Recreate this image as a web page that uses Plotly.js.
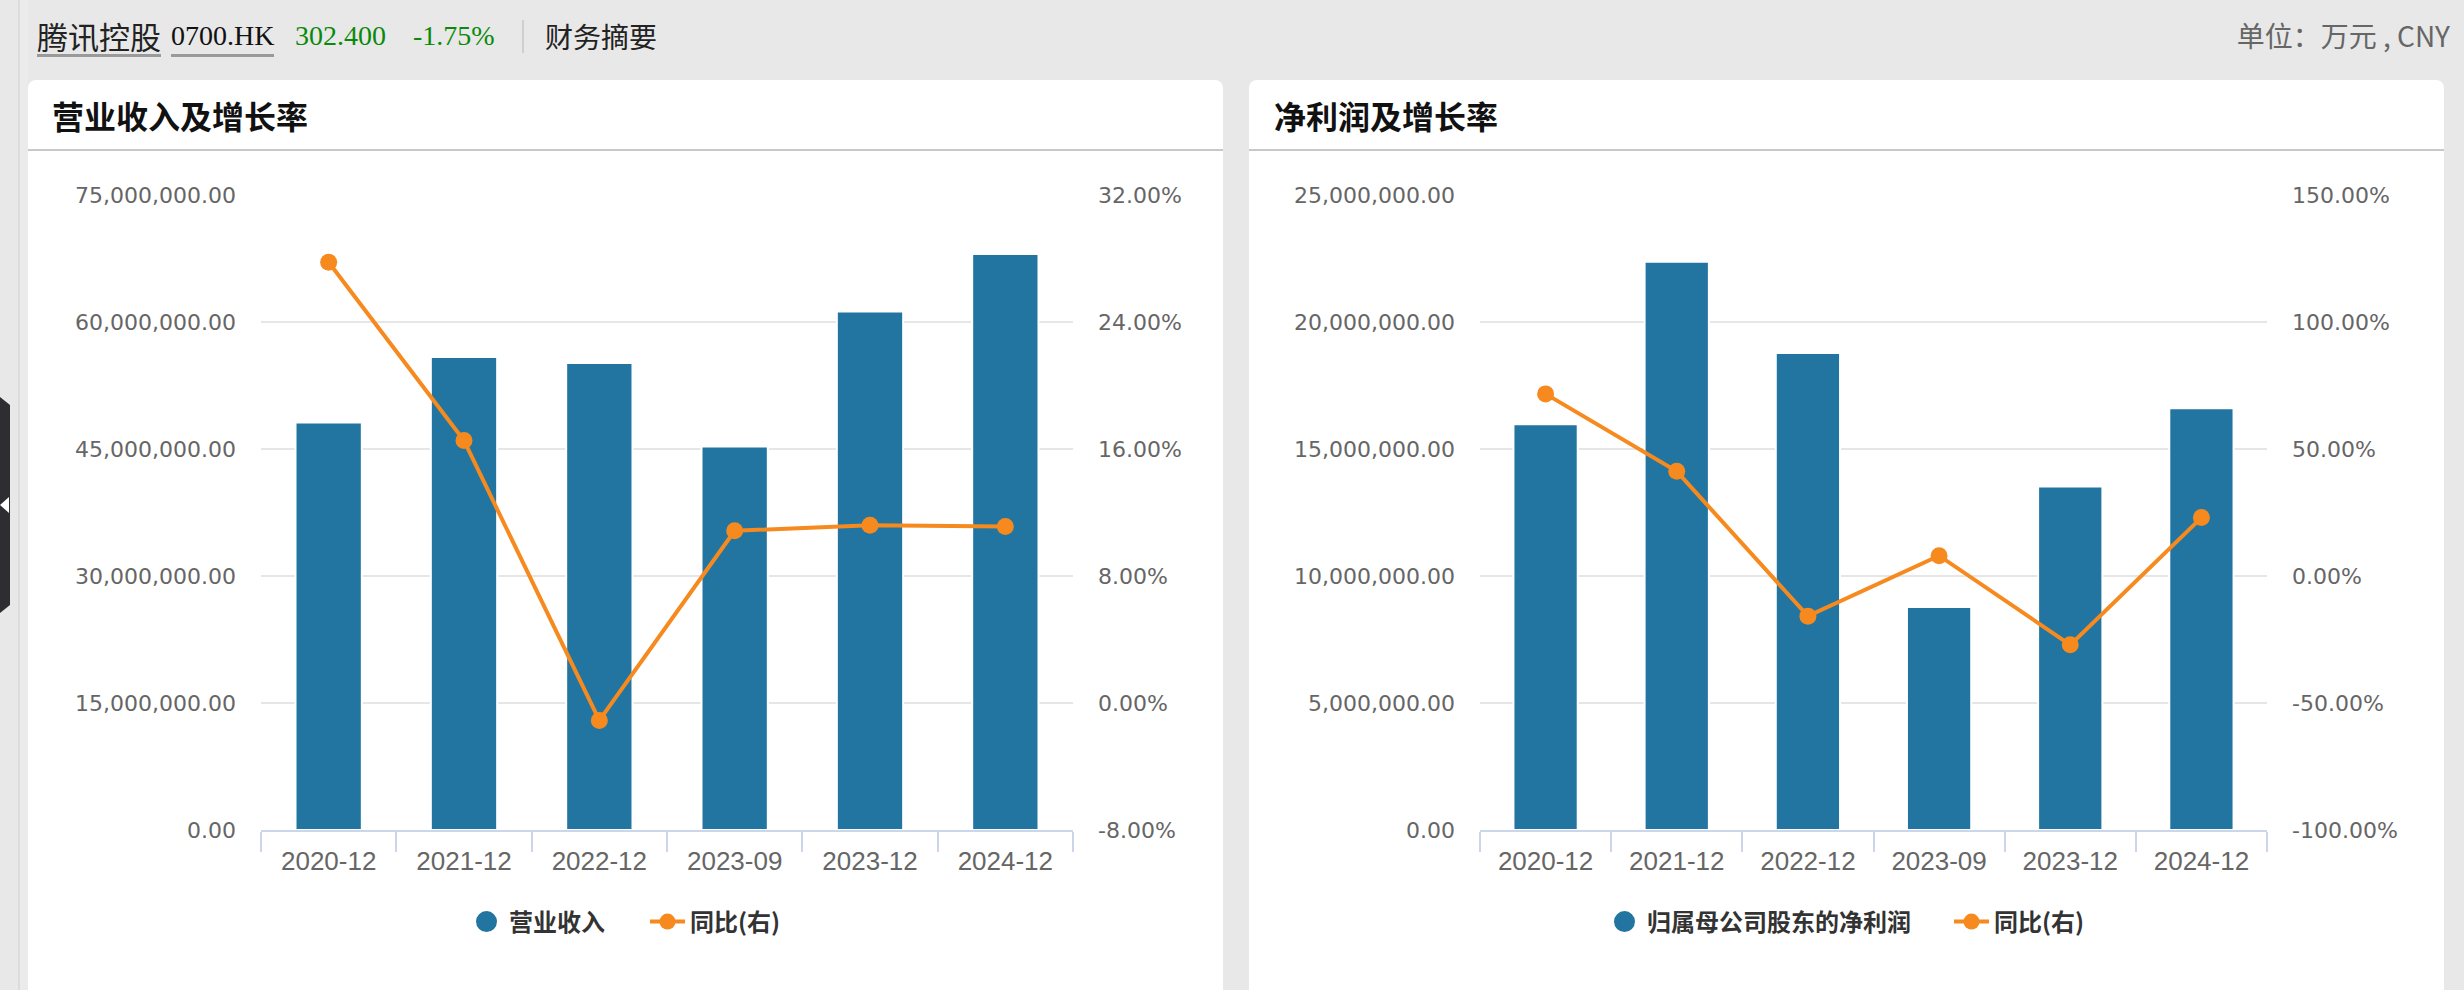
<!DOCTYPE html>
<html>
<head>
<meta charset="utf-8">
<script src="https://cdn.plot.ly/plotly-3.0.1.min.js"></script>
<style>
  html, body { margin:0; padding:0; width:2464px; height:990px; overflow:hidden; background:#e8e8e8; }
  .abs { position:absolute; white-space:nowrap; }
  .hdr { font-size:28px; line-height:28px; top:22px; color:#222; }
  .cjk { font-family:"Noto Sans CJK SC", sans-serif; }
  .serif { font-family:"Liberation Serif", "Noto Sans CJK SC", serif; }
  .panel { position:absolute; top:80px; width:1195px; height:1000px; background:#fff; border-radius:8px 8px 0 0; }
  .ptitle { position:absolute; top:99px; font-family:"Noto Sans CJK SC", sans-serif; font-weight:700; font-size:32px; line-height:32px; color:#111; }
  .sep { position:absolute; top:149px; height:2px; width:1195px; background:#c8c8c8; }
  #plot { position:absolute; left:0; top:0; width:2464px; height:990px; }
</style>
</head>
<body>
<div class="abs" style="left:18px;top:0;width:2px;height:990px;background:#dcdcdc;"></div>
<div class="abs" style="left:20px;top:0;width:8px;height:990px;background:#ebebeb;"></div>
<div class="abs" style="left:0;top:397px;width:10px;height:216px;background:#2e2d32;clip-path:polygon(0 0,100% 8px,100% 208px,0 100%);"></div>
<div class="abs" style="left:0;top:497px;width:9px;height:16px;background:#fff;clip-path:polygon(0 50%,100% 0,100% 100%);"></div>

<div class="abs hdr cjk" style="left:37px;font-size:31px;line-height:31px;top:20px;padding-bottom:3px;border-bottom:3px solid #9a9a9a;">腾讯控股</div>
<div class="abs hdr serif" style="left:171px;top:22px;padding-bottom:4px;border-bottom:3px solid #9a9a9a;color:#111;">0700.HK</div>
<div class="abs hdr serif" style="left:295px;color:#0a8a0a;">302.400</div>
<div class="abs hdr serif" style="left:413px;color:#0a8a0a;">-1.75%</div>
<div class="abs" style="left:522px;top:20px;width:2px;height:33px;background:#cfcfcf;"></div>
<div class="abs hdr cjk" style="left:545px;">财务摘要</div>
<div class="abs cjk" style="right:14px;top:21px;font-size:28px;line-height:29px;color:#666;">单位：万元 , CNY</div>

<div class="panel" style="left:28px;"></div>
<div class="panel" style="left:1249px;"></div>
<div class="sep" style="left:28px;"></div>
<div class="sep" style="left:1249px;"></div>
<div class="ptitle" style="left:52px;">营业收入及增长率</div>
<div class="ptitle" style="left:1274px;">净利润及增长率</div>

<div id="plot"></div>
<script>
// ---- data (万元 / %) ----
const periods = ['2020-12', '2021-12', '2022-12', '2023-09', '2023-12', '2024-12'];
const revenue = [48130000, 55860000, 55160000, 45300000, 61230000, 68040000];
const revenueYoY = [27.76, 16.53, -1.10, 10.85, 11.20, 11.12];
const netProfit = [15970000, 22370000, 18780000, 8780000, 13520000, 16600000];
const netProfitYoY = [71.7, 41.2, -15.8, 8.0, -27.1, 23.0];

const revTicks = [0, 15000000, 30000000, 45000000, 60000000, 75000000];
const revTickText = ['0.00', '15,000,000.00', '30,000,000.00', '45,000,000.00', '60,000,000.00', '75,000,000.00'];
const revYoYTicks = [-8, 0, 8, 16, 24, 32];
const revYoYTickText = ['-8.00%', '0.00%', '8.00%', '16.00%', '24.00%', '32.00%'];
const npTicks = [0, 5000000, 10000000, 15000000, 20000000, 25000000];
const npTickText = ['0.00', '5,000,000.00', '10,000,000.00', '15,000,000.00', '20,000,000.00', '25,000,000.00'];
const npYoYTicks = [-100, -50, 0, 50, 100, 150];
const npYoYTickText = ['-100.00%', '-50.00%', '0.00%', '50.00%', '100.00%', '150.00%'];

const revName = '营业收入';
const npName = '归属母公司股东的净利润';
const yoyName = '同比(右)';

// ---- styling ----
const W = 2464, H = 990;
const BLUE = '#2275a0', ORANGE = '#f68a1e';
const yDom = [1 - 830 / H, 1 - 195 / H];
const leftX = [261 / W, 1073 / W];
const rightX = [1480 / W, 2267 / W];
const yFont = {family: "'DejaVu Sans', sans-serif", size: 22, color: '#666'};
const xFont = {family: "'Liberation Sans', sans-serif", size: 26, color: '#666'};

function xAxis(dom, anchor) {
  return {domain: dom, anchor: anchor, type: 'category', showline: true, linecolor: '#ccd6eb', linewidth: 2,
    ticks: 'outside', tickson: 'boundaries', ticklen: 20, tickwidth: 2, tickcolor: '#ccd6eb',
    showgrid: false, zeroline: false, tickfont: xFont, ticklabelstandoff: 7, fixedrange: true};
}
function yLeft(anchor, range, vals, text) {
  return {domain: yDom, anchor: anchor, range: range, tickmode: 'array', tickvals: vals, ticktext: text,
    showgrid: true, gridcolor: '#e6e6e6', gridwidth: 2, zeroline: false, showline: false, ticks: '',
    tickfont: yFont, ticklabelstandoff: 24};
}
function yRight(anchor, over, range, vals, text) {
  return {domain: yDom, anchor: anchor, overlaying: over, side: 'right', range: range, tickmode: 'array',
    tickvals: vals, ticktext: text, showgrid: false, zeroline: false, showline: false, ticks: '',
    tickfont: yFont, ticklabelstandoff: 24};
}

const lineStyle = {color: ORANGE, width: 4};
const markStyle = {color: ORANGE, size: 17};

const traces = [
  {type: 'bar', x: periods, y: revenue, xaxis: 'x', yaxis: 'y', name: revName, showlegend: false,
   marker: {color: BLUE, line: {color: '#fff', width: 2}}},
  {type: 'scatter', mode: 'markers', x: [null], y: [null], xaxis: 'x', yaxis: 'y', name: revName,
   legend: 'legend', legendwidth: 131, marker: {color: BLUE, size: 16, line: {color: BLUE, width: 6}}},
  {type: 'scatter', mode: 'lines+markers', x: periods, y: revenueYoY, xaxis: 'x', yaxis: 'y2', name: yoyName,
   legend: 'legend', line: lineStyle, marker: markStyle},

  {type: 'bar', x: periods, y: netProfit, xaxis: 'x2', yaxis: 'y3', name: npName, showlegend: false,
   marker: {color: BLUE, line: {color: '#fff', width: 2}}},
  {type: 'scatter', mode: 'markers', x: [null], y: [null], xaxis: 'x2', yaxis: 'y3', name: npName,
   legend: 'legend2', legendwidth: 297, marker: {color: BLUE, size: 16, line: {color: BLUE, width: 6}}},
  {type: 'scatter', mode: 'lines+markers', x: periods, y: netProfitYoY, xaxis: 'x2', yaxis: 'y4', name: yoyName,
   legend: 'legend2', line: lineStyle, marker: markStyle}
];

const legFont = {family: "'Noto Sans CJK SC', sans-serif", size: 24, color: '#333', weight: 700};
const layout = {
  width: W, height: H, margin: {l: 0, r: 0, t: 0, b: 0},
  paper_bgcolor: 'rgba(0,0,0,0)', plot_bgcolor: 'rgba(0,0,0,0)',
  bargap: 0.51, showlegend: true, hovermode: false,
  xaxis: xAxis(leftX, 'y'),
  yaxis: yLeft('x', [0, 75000000], revTicks, revTickText),
  yaxis2: yRight('x', 'y', [-8, 32], revYoYTicks, revYoYTickText),
  xaxis2: xAxis(rightX, 'y3'),
  yaxis3: yLeft('x2', [0, 25000000], npTicks, npTickText),
  yaxis4: yRight('x2', 'y3', [-100, 150], npYoYTicks, npYoYTickText),
  legend: {orientation: 'h', x: 625 / W, xanchor: 'center', y: 1 - 922 / H, yanchor: 'middle',
    font: legFont, bgcolor: 'rgba(0,0,0,0)', traceorder: 'normal', itemwidth: 35},
  legend2: {orientation: 'h', x: 1846 / W, xanchor: 'center', y: 1 - 922 / H, yanchor: 'middle',
    font: legFont, bgcolor: 'rgba(0,0,0,0)', traceorder: 'normal', itemwidth: 35}
};

Plotly.newPlot('plot', traces, layout, {staticPlot: true, displayModeBar: false});
</script>
</body>
</html>
